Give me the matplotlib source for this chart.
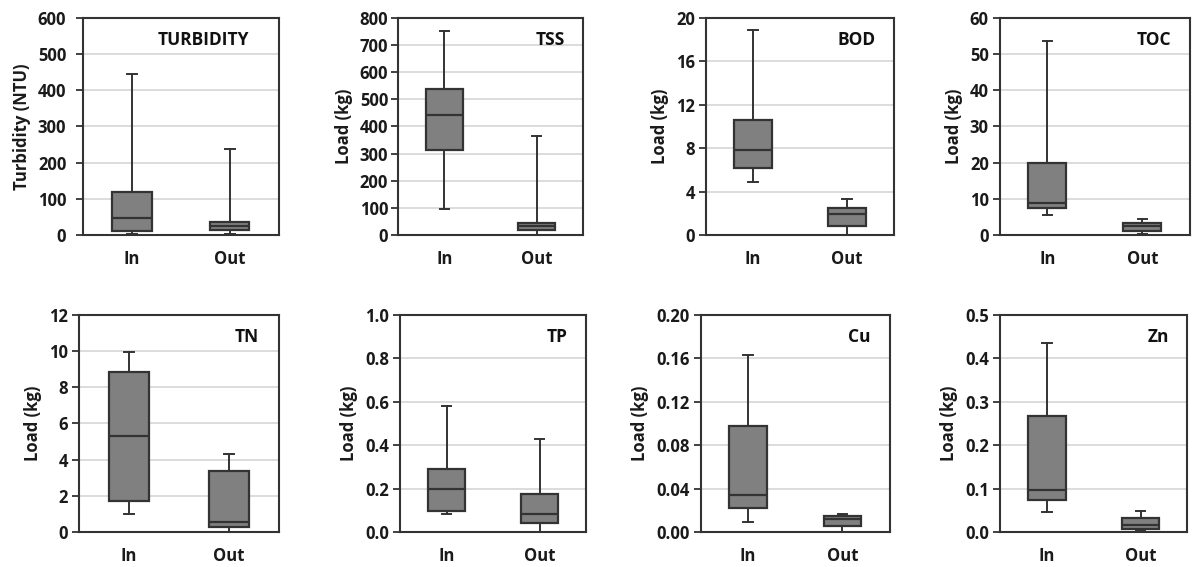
import numpy as np
import matplotlib
matplotlib.use("Agg")
from matplotlib import pyplot as plt

# panel names, y labels, y limits and tick steps
names = ["TURBIDITY", "TSS", "BOD", "TOC", "TN", "TP", "Cu", "Zn"]
ylabels = ["Turbidity (NTU)"] + ["Load (kg)"] * 7
ymax = [600, 800, 20, 60, 12, 1.0, 0.20, 0.5]
ystep = [100, 100, 4, 10, 2, 0.2, 0.04, 0.1]
yfmt = ["{:.0f}", "{:.0f}", "{:.0f}", "{:.0f}", "{:.0f}", "{:.1f}", "{:.2f}", "{:.1f}"]
groups = ["In", "Out"]

# box stats per panel: [min, q1, median, q3, max] for In and Out
in_stats = [
    [2, 12, 47, 120, 445],
    [95, 312, 443, 537, 750],
    [4.9, 6.2, 7.8, 10.6, 18.9],
    [5.5, 7.5, 8.8, 19.8, 53.5],
    [1.0, 1.7, 5.3, 8.85, 9.95],
    [0.085, 0.095, 0.2, 0.29, 0.58],
    [0.009, 0.022, 0.034, 0.098, 0.163],
    [0.047, 0.073, 0.097, 0.267, 0.435],
]
out_stats = [
    [2, 15, 25, 35, 237],
    [0, 20, 33, 45, 365],
    [0, 0.8, 1.9, 2.5, 3.3],
    [0.3, 1.2, 2.5, 3.2, 4.5],
    [0.0, 0.3, 0.55, 3.35, 4.3],
    [0.0, 0.04, 0.085, 0.175, 0.43],
    [0.0, 0.006, 0.012, 0.015, 0.017],
    [0.003, 0.007, 0.017, 0.032, 0.049],
]

# axes rectangles in figure fraction
rects = [
    [0.0695, 0.5855, 0.164, 0.383],
    [0.3333, 0.5855, 0.155, 0.383],
    [0.5913, 0.5855, 0.1575, 0.383],
    [0.8375, 0.5855, 0.159, 0.383],
    [0.0662, 0.0617, 0.1675, 0.383],
    [0.3350, 0.0617, 0.156, 0.383],
    [0.5871, 0.0617, 0.158, 0.383],
    [0.8375, 0.0617, 0.157, 0.383],
]
tickpads = [7, 2, 3, 3, 3, 3, 3, 3]

plt.rcParams['font.family'] = ['Open Sans', 'DejaVu Sans']
plt.rcParams['font.weight'] = 'bold'

edge = "#333333"
fig = plt.figure(figsize=(11.94, 5.67), dpi=100)

for i in range(8):
    ax = fig.add_axes(rects[i])
    stats = []
    for lab, s in zip(groups, [in_stats[i], out_stats[i]]):
        stats.append(dict(label=lab, whislo=s[0], q1=s[1], med=s[2], q3=s[3], whishi=s[4]))
    ax.bxp(stats, positions=[1, 2], widths=0.4, showfliers=False, patch_artist=True,
           boxprops=dict(facecolor="#808080", edgecolor=edge, linewidth=1.6),
           medianprops=dict(color=edge, linewidth=1.6),
           whiskerprops=dict(color=edge, linewidth=1.4),
           capprops=dict(color=edge, linewidth=1.4), capwidths=0.1, zorder=3)
    ax.set_xlim(0.5, 2.5)
    ax.set_ylim(0, ymax[i])
    ticks = np.arange(0, ymax[i] + ystep[i] / 2, ystep[i])
    ax.set_yticks(ticks)
    ax.set_yticklabels([yfmt[i].format(t) for t in ticks])
    ax.yaxis.grid(True, color="#d9d9d9", linewidth=1.3, zorder=0)
    ax.set_axisbelow(True)
    ax.tick_params(axis='y', labelsize=12, length=5, width=1.3, color=edge, pad=tickpads[i])
    ax.tick_params(axis='x', labelsize=12, length=0, pad=11)
    for label in ax.get_xticklabels() + ax.get_yticklabels():
        label.set_fontweight('bold')
        label.set_color("#1a1a1a")
    for sp in ax.spines.values():
        sp.set_color(edge)
        sp.set_linewidth(1.5)
    ax.set_ylabel(ylabels[i], fontsize=12, fontweight='bold', labelpad=5, color="#1a1a1a")
    tx = 0.85 if i == 0 else 0.9
    ax.text(tx, 0.94, names[i], transform=ax.transAxes, ha='right', va='top',
            fontsize=12.5, fontweight='bold', color="#111111")

fig.savefig("out.png", dpi=100)
